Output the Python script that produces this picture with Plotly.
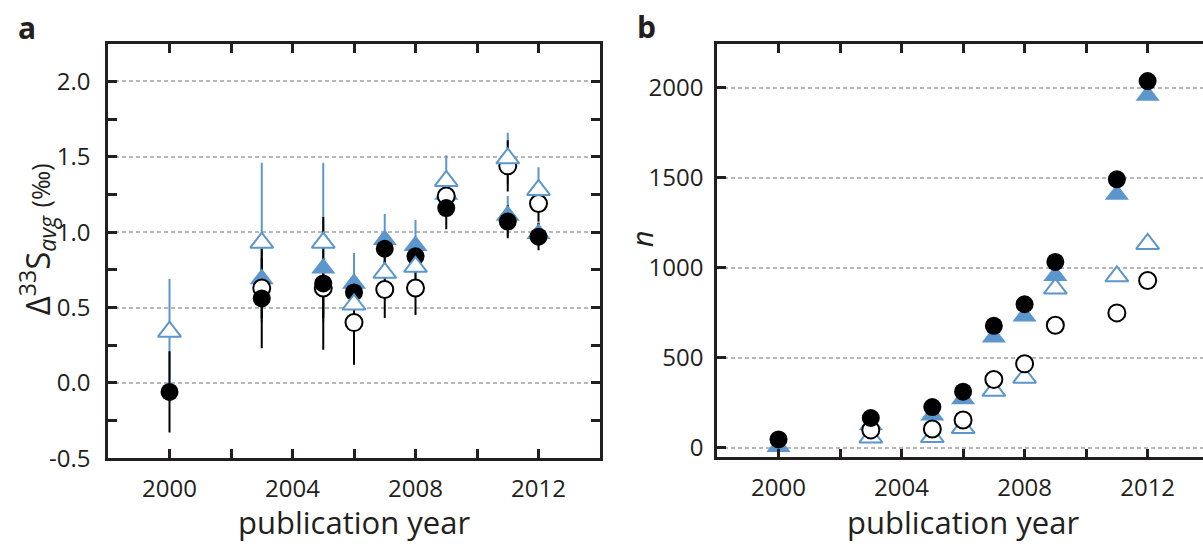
import plotly.graph_objects as go

# ---------------- data ----------------
years = [2000, 2003, 2005, 2006, 2007, 2008, 2009, 2011, 2012]

# panel a : Δ33S_avg (‰) with 1σ error bars
a_filled_circle     = [-0.06, 0.56, 0.66, 0.60, 0.89, 0.84, 1.16, 1.07, 0.97]
a_filled_circle_err = [0.27, 0.33, 0.44, 0.12, 0.10, 0.10, 0.14, 0.11, 0.09]
a_open_circle       = [None, 0.63, 0.63, 0.40, 0.62, 0.63, 1.24, 1.44, 1.19]
a_open_circle_err   = [None, 0.20, 0.20, 0.28, 0.19, 0.18, 0.10, 0.17, 0.12]
a_filled_tri        = [None, 0.69, 0.76, 0.66, 0.95, 0.91, 1.25, 1.11, 0.99]
a_filled_tri_err    = [None, 0.27, 0.31, 0.20, 0.17, 0.17, 0.05, 0.13, 0.08]
a_open_tri          = [0.34, 0.93, 0.93, 0.52, 0.73, 0.77, 1.34, 1.49, 1.28]
a_open_tri_err      = [0.35, 0.53, 0.53, 0.34, 0.15, 0.15, 0.17, 0.17, 0.15]

# panel b : n
b_filled_circle = [45, 164, 225, 310, 676, 796, 1031, 1490, 2036]
b_open_circle   = [None, 98, 103, 153, 378, 465, 679, 748, 928]
b_filled_tri    = [5, 127, 180, 270, 613, 730, 955, 1405, 1955]
b_open_tri      = [None, 56, 58, 108, 315, 388, 883, 951, 1131]

x_tickvals = [2000, 2004, 2008, 2012]
x_ticktext = ["2000", "2004", "2008", "2012"]
a_tickvals = [-0.5, 0.0, 0.5, 1.0, 1.5, 2.0]
a_ticktext = ["-0.5", "0.0", "0.5", "1.0", "1.5", "2.0"]
b_tickvals = [0, 500, 1000, 1500, 2000]
b_ticktext = ["0", "500", "1000", "1500", "2000"]

# ---------------- style ----------------
W, H = 1203, 553
BLUE = "#5b96cc"
INK = "#231f20"
FONT = "Open Sans"
GRID = "#b8b8b8"


def px_x(p):
    return p / W


def px_y(p):
    return 1 - p / H


fig = go.Figure()


def err_trace(y, e, color, xa, ya):
    return go.Scatter(
        x=years, y=y, mode="markers",
        marker=dict(size=0, color="rgba(0,0,0,0)"),
        error_y=dict(type="data", array=e, visible=True, color=color,
                     thickness=2, width=0),
        xaxis=xa, yaxis=ya, hoverinfo="skip", showlegend=False)


def mark_trace(y, kind, xa, ya):
    if kind == "fc":
        m = dict(symbol="circle", size=18, color="black", line=dict(width=0))
    elif kind == "oc":
        m = dict(symbol="circle", size=17, color="white",
                 line=dict(width=2, color="black"))
    elif kind == "ft":
        m = dict(symbol="triangle-up", size=21, color=BLUE, line=dict(width=0))
    else:
        m = dict(symbol="triangle-up", size=20, color="white",
                 line=dict(width=2, color=BLUE))
    return go.Scatter(x=years, y=y, mode="markers", marker=m,
                      xaxis=xa, yaxis=ya, showlegend=False)


# panel a : error bars (blue below black), then markers
fig.add_trace(err_trace(a_open_tri, a_open_tri_err, BLUE, "x", "y"))
fig.add_trace(err_trace(a_filled_tri, a_filled_tri_err, BLUE, "x", "y"))
fig.add_trace(err_trace(a_open_circle, a_open_circle_err, "black", "x", "y"))
fig.add_trace(err_trace(a_filled_circle, a_filled_circle_err, "black", "x", "y"))
fig.add_trace(mark_trace(a_filled_tri, "ft", "x", "y"))
fig.add_trace(mark_trace(a_open_circle, "oc", "x", "y"))
fig.add_trace(mark_trace(a_filled_circle, "fc", "x", "y"))
fig.add_trace(mark_trace(a_open_tri, "ot", "x", "y"))

# panel b
fig.add_trace(mark_trace(b_open_tri, "ot", "x2", "y2"))
fig.add_trace(mark_trace(b_filled_tri, "ft", "x2", "y2"))
fig.add_trace(mark_trace(b_open_circle, "oc", "x2", "y2"))
fig.add_trace(mark_trace(b_filled_circle, "fc", "x2", "y2"))

tickfont = dict(family=FONT, size=24, color=INK)

xcommon = dict(
    tickmode="array", tickvals=x_tickvals, ticktext=x_ticktext,
    ticks="inside", ticklen=9, tickwidth=2.5, tickcolor=INK,
    showline=True, linewidth=2.5, linecolor=INK, mirror="ticks",
    showgrid=False, zeroline=False, tickfont=tickfont,
    ticklabelstandoff=7,
    minor=dict(tickvals=[2002, 2006, 2010], ticks="inside", ticklen=9,
               tickwidth=2.5, tickcolor=INK, showgrid=False),
    fixedrange=True,
)

fig.update_layout(
    width=W, height=H,
    margin=dict(l=0, r=0, t=0, b=0),
    paper_bgcolor="white", plot_bgcolor="white",
    showlegend=False,
    xaxis=dict(domain=[px_x(108), px_x(600)], range=[1998, 2014], anchor="y",
               **xcommon),
    yaxis=dict(domain=[px_y(471), px_y(45)], range=[-0.5, 2.25], anchor="x",
               tickmode="array", tickvals=a_tickvals, ticktext=a_ticktext,
               ticks="inside", ticklen=9, tickwidth=2.5, tickcolor=INK,
               showline=True, linewidth=2.5, linecolor=INK, mirror="ticks",
               showgrid=True, gridcolor=GRID, gridwidth=1.5, griddash="4px,3px",
               zeroline=False, tickfont=tickfont, ticklabelstandoff=10,
               minor=dict(tickvals=[-0.25, 0.25, 0.75, 1.25, 1.75],
                          ticks="inside", ticklen=9, tickwidth=2.5,
                          tickcolor=INK, showgrid=False),
               fixedrange=True),
    xaxis2=dict(domain=[px_x(717), 1.0], range=[1998, 2013.8], anchor="y2",
                **xcommon),
    yaxis2=dict(domain=[px_y(470), px_y(45)], range=[-54, 2243], anchor="x2",
                tickmode="array", tickvals=b_tickvals, ticktext=b_ticktext,
                ticks="inside", ticklen=9, tickwidth=2.5, tickcolor=INK,
                showline=True, linewidth=2.5, linecolor=INK, mirror=False,
                showgrid=True, gridcolor=GRID, gridwidth=1.5, griddash="4px,3px",
                zeroline=False, tickfont=tickfont, ticklabelstandoff=6,
                fixedrange=True),
)

ann = []
for cx in (354, 963):
    ann.append(dict(text="publication year", x=px_x(cx), y=px_y(537),
                    xref="paper", yref="paper", xanchor="center", yanchor="middle",
                    showarrow=False, font=dict(family=FONT, size=31, color=INK)))
ann.append(dict(
    text="Δ<sup>33</sup>S<sub><i>avg</i></sub> <span style='font-size:25px'>(‰)</span>",
    x=px_x(37), y=px_y(246), xref="paper", yref="paper", textangle=-90,
    xanchor="center", yanchor="middle", showarrow=False,
    font=dict(family=FONT, size=33, color=INK)))
ann.append(dict(text="<i>n</i>", x=px_x(641), y=px_y(246), xref="paper",
                yref="paper", textangle=-90, xanchor="center", yanchor="middle",
                showarrow=False, font=dict(family=FONT, size=29, color=INK)))
ann.append(dict(text="<b>a</b>", x=px_x(27), y=px_y(28), xref="paper",
                yref="paper", xanchor="center", yanchor="middle",
                showarrow=False, font=dict(family=FONT, size=30, color=INK)))
ann.append(dict(text="<b>b</b>", x=px_x(646), y=px_y(27), xref="paper",
                yref="paper", xanchor="center", yanchor="middle",
                showarrow=False, font=dict(family=FONT, size=30, color=INK)))
fig.update_layout(annotations=ann)

# remove the browser's default body margin so the figure sits at (0, 0)
page_js = (
    "document.body.style.margin='0';"
    "document.body.style.overflow='hidden';"
)
fig.write_html("out.html", config={"displayModeBar": False},
               post_script=page_js)
